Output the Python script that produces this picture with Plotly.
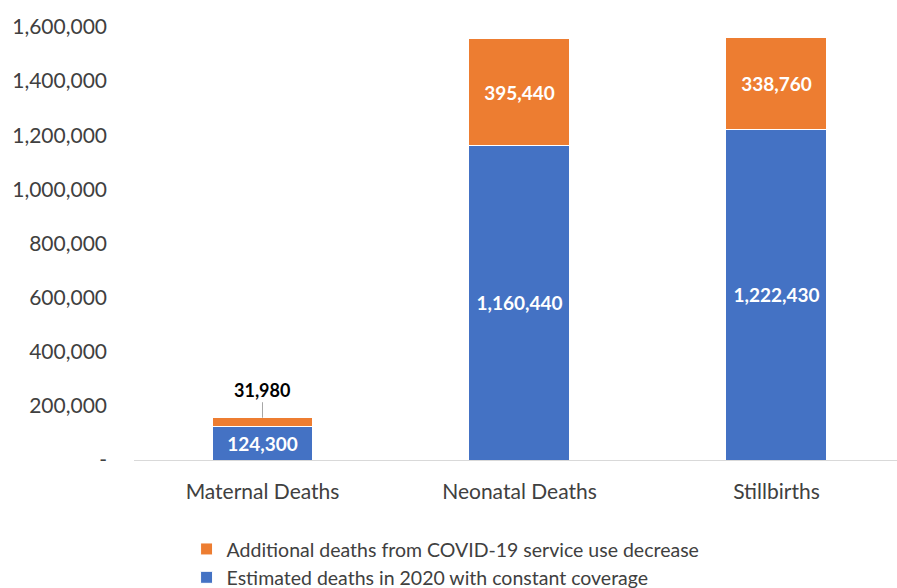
import plotly.graph_objects as go

categories = ["Maternal Deaths", "Neonatal Deaths", "Stillbirths"]
baseline = [124300, 1160440, 1222430]
additional = [31980, 395440, 338760]
yticks = [0, 200000, 400000, 600000, 800000, 1000000, 1200000, 1400000, 1600000]
yticklabels = ["-" if v == 0 else f"{v:,}" for v in yticks]

BLUE = "#4472C4"
ORANGE = "#ED7D31"
FONT = "Lato, Open Sans, sans-serif"

x = list(range(len(categories)))

fig = go.Figure()
fig.add_trace(go.Bar(
    x=x, y=baseline, name="Estimated deaths in 2020 with constant coverage",
    marker=dict(color=BLUE, line=dict(color="white", width=1)),
    width=0.393,
    text=[f"{v:,}" for v in baseline], textposition="inside",
    insidetextanchor="middle",
    textfont=dict(color="white", size=19, family=FONT, weight="bold"),
    hoverinfo="skip",
))
add_text = [f"{v:,}" if v > 100000 else "" for v in additional]
fig.add_trace(go.Bar(
    x=x, y=additional, name="Additional deaths from COVID-19 service use decrease",
    marker=dict(color=ORANGE, line=dict(color="white", width=1)),
    width=0.393,
    text=add_text, textposition="inside",
    insidetextanchor="middle",
    textfont=dict(color="white", size=19, family=FONT, weight="bold"),
    hoverinfo="skip",
))

# small-segment label with leader line
for i, (b, a) in enumerate(zip(baseline, additional)):
    if a < 100000:
        fig.add_annotation(
            x=i, y=b + a, text=f"<b>{a:,}</b>", showarrow=True,
            ax=0, ay=-28, arrowhead=0, arrowwidth=1, arrowcolor="#A6A6A6",
            font=dict(color="#000000", size=18, family=FONT), standoff=0,
        )

fig.update_layout(
    barmode="stack",
    width=897, height=588,
    margin=dict(l=134, r=0, t=27, b=128, autoexpand=False),
    paper_bgcolor="white", plot_bgcolor="white",
    font=dict(family=FONT, color="#404040"),
    showlegend=True,
    legend=dict(
        orientation="v", traceorder="reversed",
        xref="container", yref="container",
        x=0.208, xanchor="left", y=0.099, yanchor="top",
        font=dict(size=19.5, color="#404040", family=FONT),
        itemwidth=30, tracegroupgap=0,
    ),
    xaxis=dict(
        tickmode="array", tickvals=x, ticktext=categories,
        range=[-0.5, 2.469],
        showline=True, linecolor="#D9D9D9", linewidth=1,
        showgrid=False, zeroline=False,
        tickfont=dict(size=21, color="#404040", family=FONT),
        ticks="", ticklabelstandoff=13,
    ),
    yaxis=dict(
        range=[0, 1600000],
        tickmode="array", tickvals=yticks, ticktext=yticklabels,
        showgrid=False, zeroline=False, showline=False,
        tickfont=dict(size=21, color="#404040", family=FONT),
        ticks="", ticklabelstandoff=26,
    ),
)

fig.write_html("out.html")
